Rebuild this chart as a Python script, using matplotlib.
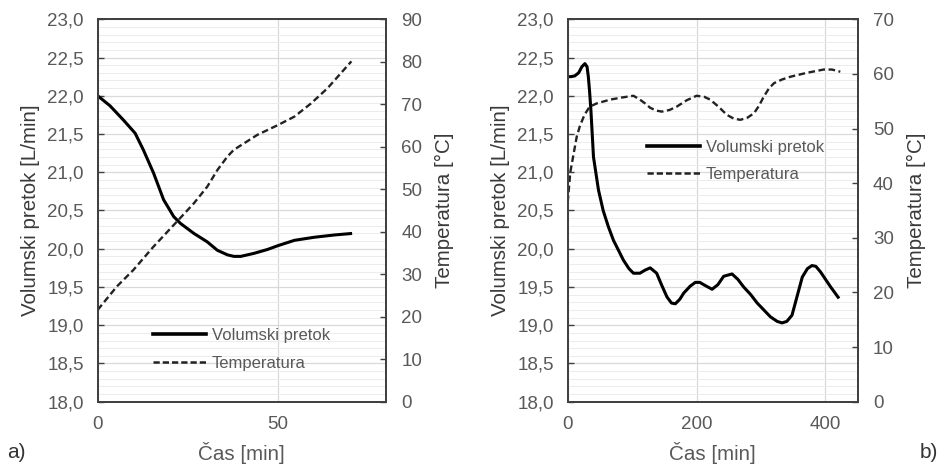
import matplotlib
matplotlib.use("Agg")
import matplotlib.pyplot as plt
from matplotlib.ticker import FuncFormatter, MultipleLocator
from matplotlib.lines import Line2D

plt.rcParams['font.family'] = ['Liberation Sans', 'DejaVu Sans']

# ---- Panel a) data ----
t_a_flow = [0, 3.4, 7.2, 10.4, 12.7, 15.5, 18.3, 21.1, 23.0, 26.7, 30.4, 33.2, 36.0, 37.8, 39.7,
            43.4, 47.1, 50.0, 54.6, 60.1, 65.7, 70.6]
flow_a = [22.0, 21.87, 21.68, 21.51, 21.29, 20.99, 20.64, 20.42, 20.33, 20.2, 20.09, 19.98, 19.92,
          19.9, 19.9, 19.94, 19.99, 20.04, 20.11, 20.15, 20.18, 20.2]
t_a_temp = [0, 5.3, 9.9, 15.5, 22, 26.7, 30.4, 33.2, 36, 37.8, 40.6, 44.3, 50, 54.6, 59.2, 63.8, 70.4]
temp_a = [21.6, 27.1, 31.0, 36.5, 42.4, 46.7, 50.6, 54.5, 57.7, 59.3, 60.8, 62.8, 65.1, 67.1, 70.2,
          73.8, 80.1]

# ---- Panel b) data ----
t_b_flow = [0, 5, 11, 17, 22, 26.7, 30, 32, 34, 36, 40, 47.7, 55, 63, 71, 86.5, 95, 102, 112, 120,
            128, 138, 146, 154, 161, 167, 174, 180, 190, 198, 205, 211, 224, 233, 242, 255, 264,
            273, 284, 294, 314.5, 325, 332.6, 340, 348, 356, 364, 372, 379, 385, 392, 408, 421]
flow_b = [22.25, 22.25, 22.26, 22.3, 22.38, 22.42, 22.38, 22.25, 22.05, 21.81, 21.2, 20.77, 20.5,
          20.29, 20.11, 19.85, 19.74, 19.68, 19.68, 19.72, 19.75, 19.68, 19.52, 19.37, 19.29, 19.28,
          19.34, 19.42, 19.51, 19.56, 19.56, 19.53, 19.47, 19.53, 19.64, 19.67, 19.6, 19.5, 19.4,
          19.29, 19.11, 19.05, 19.03, 19.05, 19.13, 19.38, 19.63, 19.74, 19.78, 19.77, 19.7, 19.5,
          19.35]
t_b_temp = [0, 4, 8.6, 14, 19, 26, 34, 45, 66, 85, 102, 112, 120, 128, 137, 146, 158, 169, 185, 200,
            212, 221, 234, 247, 258, 268, 279, 289, 297, 304, 312, 320, 333, 346, 371, 397, 410, 423]
temp_b = [36.5, 42.0, 45.0, 48.5, 50.5, 52.5, 54.0, 54.6, 55.3, 55.7, 56.0, 55.3, 54.6, 53.8,
          53.3, 53.1, 53.4, 54.0, 55.2, 56.0, 55.8, 55.3, 54.0, 52.5, 51.8, 51.6, 52.0, 52.8,
          54.2, 55.8, 57.3, 58.3, 59.0, 59.5, 60.2, 60.8, 60.8, 60.4]

flow_ticks = [18.0, 18.5, 19.0, 19.5, 20.0, 20.5, 21.0, 21.5, 22.0, 22.5, 23.0]
labels = ["Volumski pretok", "Temperatura"]

TICK_C = '#595959'
LAB_C = '#3a3a3a'
FS_TICK = 13.5
FS_LAB = 14.8
FS_LEG = 12

fig = plt.figure(figsize=(9.41, 4.66), dpi=100)

def make_panel(rect, t_f, f, t_t, tt, xlim, xstep, tlim, leg_xy):
    ax = fig.add_axes(rect)
    ax2 = ax.twinx()
    ax.set_xlim(*xlim)
    ax.set_ylim(18, 23)
    ax2.set_ylim(*tlim)
    ax.set_yticks(flow_ticks)
    ax.yaxis.set_minor_locator(MultipleLocator(0.1))
    ax.xaxis.set_major_locator(MultipleLocator(xstep))
    ax2.yaxis.set_major_locator(MultipleLocator(10))
    ax.yaxis.set_major_formatter(FuncFormatter(lambda v, p: f"{v:.1f}".replace('.', ',')))
    ax.grid(True, which='major', axis='y', color='#d9d9d9', lw=0.9)
    ax.grid(True, which='minor', axis='y', color='#ececec', lw=0.7)
    ax.grid(True, which='major', axis='x', color='#d9d9d9', lw=0.9)
    ax.set_axisbelow(True)
    ax.tick_params(axis='y', which='major', direction='in', length=4, width=1, color='#404040',
                   labelsize=FS_TICK, labelcolor=TICK_C, pad=10)
    ax.tick_params(axis='y', which='minor', length=0)
    ax.tick_params(axis='x', length=0, labelsize=FS_TICK, labelcolor=TICK_C, pad=10)
    ax2.tick_params(axis='y', direction='in', length=4, width=1, color='#404040',
                    labelsize=FS_TICK, labelcolor=TICK_C, pad=11)
    for a in (ax, ax2):
        for s in a.spines.values():
            s.set_color('#404040')
            s.set_linewidth(1.3)
    ax.plot(t_f, f, color='black', lw=2.2, solid_capstyle='butt', solid_joinstyle='round')
    ax2.plot(t_t, tt, color='#222222', lw=1.7, linestyle=(0, (2.8, 1.5)))
    ax.set_xlabel("Čas [min]", fontsize=FS_LAB, color=TICK_C, labelpad=7)
    ax.set_ylabel("Volumski pretok [L/min]", fontsize=FS_LAB, color=LAB_C, labelpad=5)
    ax2.set_ylabel("Temperatura [°C]", fontsize=FS_LAB, color=LAB_C, labelpad=9)
    h1 = Line2D([], [], color='black', lw=2.6)
    h2 = Line2D([], [], color='#222222', lw=1.8, linestyle=(0, (2.5, 1.2)))
    leg = ax2.legend([h1, h2], labels, loc='center left', bbox_to_anchor=leg_xy,
                     frameon=False, fontsize=FS_LEG, handlelength=3.2, handletextpad=0.35,
                     labelspacing=0.75, borderpad=0, borderaxespad=0)
    for txt in leg.get_texts():
        txt.set_color(TICK_C)
    return ax, ax2

make_panel([0.1038, 0.138, 0.3064, 0.8206], t_a_flow, flow_a, t_a_temp, temp_a,
           (0, 80), 50, (0, 90), (0.191, 0.1365))
make_panel([0.6033, 0.138, 0.3082, 0.8206], t_b_flow, flow_b, t_b_temp, temp_b,
           (0, 450), 200, (0, 70), (0.272, 0.63))

fig.text(0.008, 0.028, "a)", fontsize=15, color='#333333', ha='left', va='center')
fig.text(0.997, 0.028, "b)", fontsize=15, color='#333333', ha='right', va='center')

fig.savefig("out.png", dpi=100)
